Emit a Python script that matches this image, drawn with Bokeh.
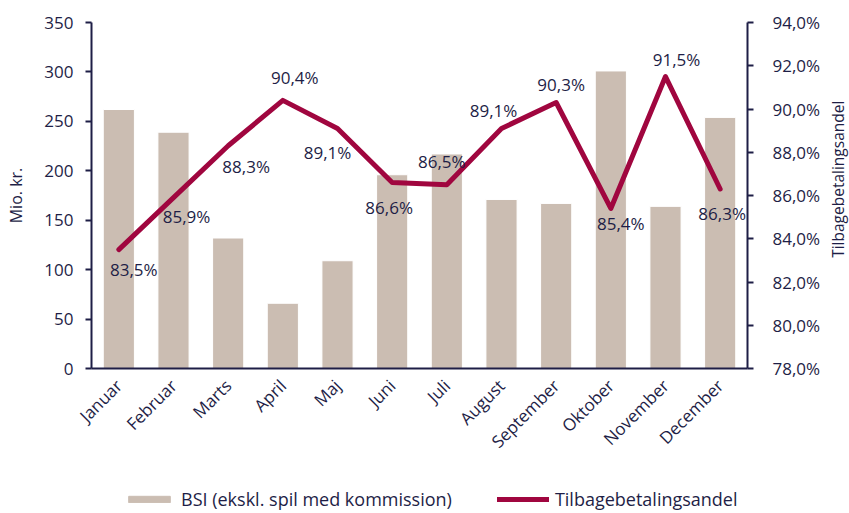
import math
from bokeh.plotting import figure
from bokeh.layouts import row, column
from bokeh.models import (ColumnDataSource, Range1d, LinearAxis, FixedTicker,
                          Legend, LegendItem)
from bokeh.core.properties import value
from bokeh.embed import file_html
from bokeh.resources import INLINE

months = ["Januar", "Februar", "Marts", "April", "Maj", "Juni", "Juli",
          "August", "September", "Oktober", "November", "December"]
bsi = [262, 239, 132, 66, 109, 196, 217, 171, 167, 301, 164, 254]
share = [83.5, 85.9, 88.3, 90.4, 89.1, 86.6, 86.5, 89.1, 90.3, 85.4, 91.5, 86.3]
left_ticks = [0, 50, 100, 150, 200, 250, 300, 350]
right_ticks = [78, 80, 82, 84, 86, 88, 90, 92, 94]
bar_name = "BSI (ekskl. spil med kommission)"
line_name = "Tilbagebetalingsandel"

# label offsets (screen px) for data labels
lab_dx = [15, 13, 18, 12, -10, -3, -5, -8, 5, 10, 11, 2]
lab_dy = [20, 19, 21, -23, 24, 25, -23, -18, -18, 15, -17, 24]

NAVY = "#1e1e46"
BAR = "#CBBDB2"
LINE = "#A0063F"
FONT = "Open Sans"

MAIN_W, MAIN_H = 826, 485
STRIP_W = 23
LEG_H = 26

p = figure(x_range=months, y_range=Range1d(0, 350), width=MAIN_W, height=MAIN_H,
           output_backend="svg", toolbar_location=None,
           min_border_left=91, min_border_right=79, min_border_top=22,
           min_border_bottom=117)
p.outline_line_color = None
p.xgrid.grid_line_color = None
p.ygrid.grid_line_color = None
p.extra_y_ranges = {"pct": Range1d(78, 94)}

src = ColumnDataSource(dict(m=months, bsi=bsi, share=share,
                            lab=[f"{v:.1f}".replace(".", ",") + "%" for v in share],
                            dx=lab_dx, dy=lab_dy))

p.vbar(x="m", top="bsi", width=0.57, source=src, fill_color=BAR,
       line_color="white", line_width=1)
p.line(x="m", y="share", source=src, y_range_name="pct",
       line_color=LINE, line_width=5, line_cap="round", line_join="round")
p.text(x="m", y="share", text="lab", source=src, y_range_name="pct",
       x_offset="dx", y_offset="dy", text_align="center", text_baseline="middle",
       text_font=value(FONT), text_font_size="17px", text_color=NAVY)

# left axis
ya = p.yaxis[0]
ya.ticker = FixedTicker(ticks=left_ticks)
ya.axis_label = "Mio. kr."
ya.axis_label_text_font = FONT
ya.axis_label_text_font_size = "16px"
ya.axis_label_text_font_style = "normal"
ya.axis_label_text_color = NAVY
ya.axis_label_standoff = 14
ya.major_label_text_font = FONT
ya.major_label_text_font_size = "17px"
ya.major_label_text_color = NAVY
ya.major_label_standoff = 12
ya.axis_line_color = NAVY
ya.axis_line_width = 2
ya.major_tick_line_color = NAVY
ya.major_tick_line_width = 2
ya.major_tick_in = 0
ya.major_tick_out = 6
ya.minor_tick_line_color = None

ra = LinearAxis(y_range_name="pct", ticker=FixedTicker(ticks=right_ticks))
ra.major_label_overrides = {t: f"{t:.1f}".replace(".", ",") + "%" for t in right_ticks}
ra.major_label_text_font = FONT
ra.major_label_text_font_size = "17px"
ra.major_label_text_color = NAVY
ra.major_label_standoff = 19
ra.axis_line_color = NAVY
ra.axis_line_width = 2
ra.major_tick_line_color = NAVY
ra.major_tick_line_width = 2
ra.major_tick_in = 0
ra.major_tick_out = 6
ra.minor_tick_line_color = None
p.add_layout(ra, "right")

xa = p.xaxis[0]
xa.major_label_orientation = math.pi / 4
xa.major_label_text_font = FONT
xa.major_label_text_font_size = "17px"
xa.major_label_text_color = NAVY
xa.major_label_standoff = 8
xa.axis_line_color = NAVY
xa.axis_line_width = 2
xa.major_tick_line_color = None
xa.minor_tick_line_color = None

# right-hand axis title strip (reads bottom to top)
s = figure(width=STRIP_W, height=MAIN_H, x_range=Range1d(0, 1), y_range=Range1d(0, 1),
           output_backend="svg", toolbar_location=None, x_axis_type=None,
           y_axis_type=None, min_border=0)
s.outline_line_color = None
s.grid.visible = False
s.text(x=[0.5], y=[0.547], text=[line_name], angle=math.pi / 2,
       text_align="center", text_baseline="middle", text_font=value(FONT),
       text_font_size="15.5px", text_color=NAVY)

# legend strip
lf = figure(width=MAIN_W + STRIP_W, height=LEG_H, x_range=Range1d(0, 1),
            y_range=Range1d(0, 1), output_backend="svg", toolbar_location=None,
            x_axis_type=None, y_axis_type=None, min_border=0)
lf.outline_line_color = None
lf.grid.visible = False
lb = lf.vbar(x=[-10], top=[-10], width=0.5, fill_color=BAR, line_color=BAR)
ll = lf.line(x=[-10, -9], y=[-10, -10], line_color=LINE, line_width=5, line_cap="round")
legend = Legend(items=[LegendItem(label=bar_name, renderers=[lb]),
                       LegendItem(label=line_name, renderers=[ll])],
                orientation="horizontal", location=(123, 0),
                glyph_width=52, glyph_height=8, spacing=45, padding=0, margin=0,
                border_line_color=None, background_fill_alpha=0,
                label_text_font=FONT, label_text_font_size="18px",
                label_text_color=NAVY, label_standoff=6)
lf.add_layout(legend, "center")

layout = column(row(p, s, spacing=0), lf, spacing=0)
open("out.html", "w").write(file_html(layout, INLINE))
